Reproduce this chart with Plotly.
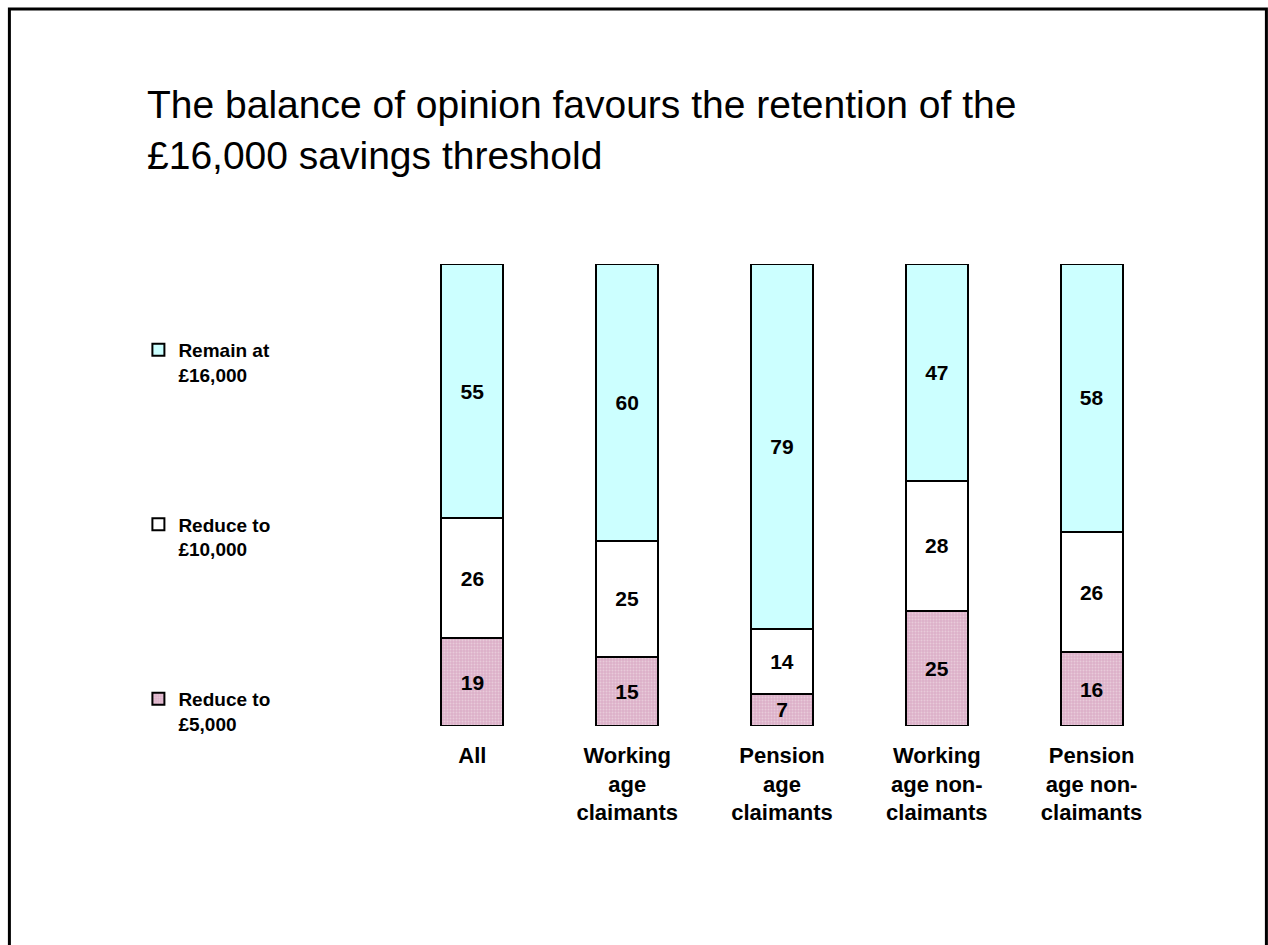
import plotly.graph_objects as go

categories = ["All", "Working<br>age<br>claimants", "Pension<br>age<br>claimants",
              "Working<br>age non-<br>claimants", "Pension<br>age non-<br>claimants"]
reduce_5000 = [19, 15, 7, 25, 16]
reduce_10000 = [26, 25, 14, 28, 26]
remain_16000 = [55, 60, 79, 47, 58]

series_names = ["Reduce to<br>£5,000", "Reduce to<br>£10,000", "Remain at<br>£16,000"]
series_values = [reduce_5000, reduce_10000, remain_16000]
series_colors = ["#dcb0c8", "#ffffff", "#ccffff"]
legend_ranks = [3, 2, 1]

W, H = 1268, 945
L, R, T, B = 394.6, 99.4, 264, 219
pw, ph = W - L - R, H - T - B

fig = go.Figure()
for i, (name, vals, col, rk) in enumerate(zip(series_names, series_values, series_colors, legend_ranks)):
    marker = dict(color=col, line=dict(color="black", width=2))
    if i == 0:
        marker["pattern"] = dict(shape=".", fgcolor="#f4e4ec", size=3, solidity=0.35)
    fig.add_trace(go.Bar(
        x=categories, y=vals, name=name, marker=marker,
        text=[str(v) for v in vals], textposition="inside", insidetextanchor="middle",
        textangle=0, constraintext="none",
        textfont=dict(family="Liberation Sans, Arial", size=21, color="black", weight="bold"),
        legendgroup=str(i), legendrank=rk, hoverinfo="skip",
    ))

def px_x(p):
    return (p - L) / pw

def px_y(p):
    return (H - B - p) / ph

fig.add_shape(type="rect", xref="paper", yref="paper",
              x0=px_x(9), x1=px_x(1266), y0=px_y(980), y1=px_y(9),
              line=dict(color="black", width=3), fillcolor="rgba(0,0,0,0)", layer="below")

fig.update_layout(
    width=W, height=H,
    margin=dict(l=L, r=R, t=T, b=B, autoexpand=False),
    paper_bgcolor="white", plot_bgcolor="white",
    barmode="stack", bargap=0.6,
    title=dict(text="The balance of opinion favours the retention of the<br>£16,000 savings threshold",
               x=147 / W, xref="container", xanchor="left",
               y=1 - 118 / H, yref="container", yanchor="top",
               font=dict(family="Liberation Sans, Arial", size=39, color="black")),
    legend=dict(x=px_x(138), xanchor="left", y=px_y(331), yanchor="top",
                traceorder="grouped", tracegroupgap=122, valign="top",
                font=dict(family="Liberation Sans, Arial", size=19, color="black", weight="bold"),
                bgcolor="rgba(0,0,0,0)", itemclick=False),
    xaxis=dict(showgrid=False, zeroline=False, showline=False, ticks="",
               tickfont=dict(family="Liberation Sans, Arial", size=22, color="black", weight="bold"),
               ticklabelstandoff=14, range=[-0.5, 4.5]),
    yaxis=dict(visible=False, range=[0, 100]),
    showlegend=True,
)

fig.write_html("out.html", config={"displayModeBar": False},
               post_script="document.body.style.margin='0';document.body.style.overflow='hidden';")
